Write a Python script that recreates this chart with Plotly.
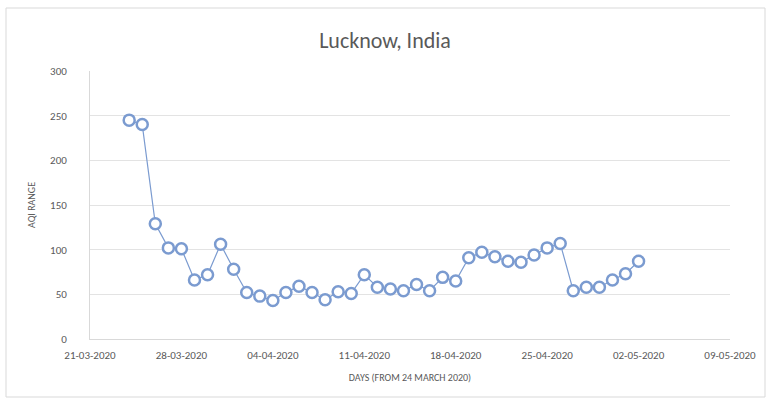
import plotly.graph_objects as go
import pandas as pd

start_date = "2020-03-24"
aqi = [245, 240, 129, 102, 101, 66, 72, 106, 78, 52,
       48, 43, 52, 59, 52, 44, 53, 51, 72, 58,
       56, 54, 61, 54, 69, 65, 91, 97, 92, 87,
       86, 94, 102, 107, 54, 58, 58, 66, 73, 87]
dates = pd.date_range(start_date, periods=len(aqi), freq="D")
tick_dates = pd.date_range("2020-03-21", "2020-05-09", freq="7D")
tick_labels = [d.strftime("%d-%m-%Y") for d in tick_dates]

W, H = 770, 403
ml, mr, mt, mb = 90, 40, 71, 64

fig = go.Figure()
fig.add_trace(go.Scatter(
    x=dates, y=aqi, mode="lines+markers",
    line=dict(color="#7b9bd0", width=1.2),
    marker=dict(symbol="circle", size=11, color="white",
                line=dict(color="#7b9bd0", width=2.5)),
    showlegend=False,
))

font = "Liberation Sans Narrow, Carlito, Open Sans, sans-serif"
pw = W - ml - mr
ph = H - mt - mb
fig.add_shape(type="rect", xref="paper", yref="paper",
              x0=(6 - ml) / pw, x1=(W - 5 - ml) / pw,
              y0=-(H - 6 - mt - ph) / ph, y1=1 + (mt - 8) / ph,
              line=dict(color="#d9d9d9", width=1), layer="below")

fig.update_layout(
    width=W, height=H,
    margin=dict(l=ml, r=mr, t=mt, b=mb),
    paper_bgcolor="white", plot_bgcolor="white",
    title=dict(text="Lucknow, India", x=0.5, xanchor="center",
               y=1 - 40 / H, yanchor="middle",
               font=dict(family=font, size=22, color="#595959")),
    xaxis=dict(
        range=[tick_dates[0], tick_dates[-1]],
        tickvals=tick_dates, ticktext=tick_labels,
        showgrid=False, showline=True, linecolor="#d9d9d9", linewidth=1,
        ticks="", ticklabelstandoff=6,
        tickfont=dict(family=font, size=11, color="#595959"),
        title=dict(text="DAYS (FROM 24 MARCH 2020)", standoff=12,
                   font=dict(family=font, size=10, color="#595959")),
        zeroline=False,
    ),
    yaxis=dict(
        range=[0, 300], tickvals=[0, 50, 100, 150, 200, 250, 300],
        showgrid=True, gridcolor="#e3e3e3", gridwidth=1,
        showline=True, linecolor="#d9d9d9", linewidth=1,
        ticks="", ticklabelstandoff=20,
        tickfont=dict(family=font, size=11, color="#595959"),
        title=dict(text="AQI RANGE", standoff=12,
                   font=dict(family=font, size=10, color="#595959")),
        zeroline=False,
    ),
)

fig.write_html("out.html")
